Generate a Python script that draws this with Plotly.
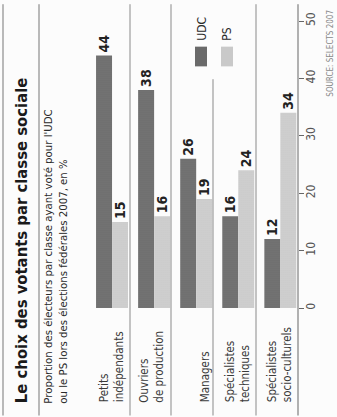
import plotly.graph_objects as go

# ---- data ----
categories = ["Petits<br>indépendants", "Ouvriers<br>de production", "Managers",
              "Spécialistes<br>techniques", "Spécialistes<br>socio-culturels"]
udc = [44, 38, 26, 16, 12]
ps = [15, 16, 19, 24, 34]
tick_vals = [0, 10, 20, 30, 40, 50]
title = "Le choix des votants par classe sociale"
subtitle = "Proportion des électeurs par classe ayant voté pour l'UDC<br>ou le PS lors des élections fédérales 2007, en %"
source = "SOURCE: SELECTS 2007"

W, H = 337, 417
L, R, T, B = 91, 298, 17, 308  # plot area in pixels


def xp(px):
    return (px - L) / (R - L)


def yp(py):
    return (B - py) / (B - T)


COND = "Liberation Sans Narrow, DejaVu Sans Condensed, Roboto Condensed, Roboto, sans-serif"
UDC_COL = "#6a6a6a"
PS_COL = "#c9c9c9"

idx = list(range(len(categories)))

fig = go.Figure()
fig.add_trace(go.Bar(
    x=idx, y=udc, name="UDC",
    marker=dict(color=UDC_COL, line=dict(width=0),
                pattern=dict(shape=".", fgcolor="#4a4a4a", bgcolor="#767676", size=2, solidity=0.3)),
    text=[str(v) for v in udc], textposition="outside", textangle=-90,
    textfont=dict(family=COND, size=14, color="#222222", weight="bold"),
    constraintext="none", cliponaxis=False,
))
fig.add_trace(go.Bar(
    x=idx, y=ps, name="PS",
    marker=dict(color=PS_COL, line=dict(width=0),
                pattern=dict(shape=".", fgcolor="#a8a8a8", bgcolor="#d2d2d2", size=2, solidity=0.3)),
    text=[str(v) for v in ps], textposition="outside", textangle=-90,
    textfont=dict(family=COND, size=14, color="#222222", weight="bold"),
    constraintext="none", cliponaxis=False,
))

shapes = []
line_col = "#8a8a8a"
# frame rules (left side of rotated page)
for px in (3, 39):
    shapes.append(dict(type="line", xref="paper", yref="paper", x0=xp(px), x1=xp(px),
                       y0=yp(0), y1=yp(H), line=dict(color="#777777", width=1)))
# category separators
for px, top in ((130, 0), (171, 0), (213, 76), (256, 0)):
    shapes.append(dict(type="line", xref="paper", yref="paper", x0=xp(px), x1=xp(px),
                       y0=yp(top), y1=yp(H), line=dict(color=line_col, width=1)))
# axis baseline
shapes.append(dict(type="line", xref="paper", yref="paper", x0=1, x1=1,
                   y0=yp(0), y1=yp(H), line=dict(color="#666666", width=1)))
# legend swatches
shapes.append(dict(type="rect", xref="paper", yref="paper", x0=xp(195), x1=xp(207),
                   y0=yp(63), y1=yp(43), fillcolor=UDC_COL, line=dict(width=0)))
shapes.append(dict(type="rect", xref="paper", yref="paper", x0=xp(221), x1=xp(233),
                   y0=yp(63), y1=yp(43), fillcolor=PS_COL, line=dict(width=0)))

annotations = []
annotations.append(dict(text="<b>" + title + "</b>", xref="paper", yref="paper",
                        x=xp(21), y=yp(407), xanchor="center", yanchor="bottom",
                        textangle=-90, showarrow=False,
                        font=dict(family=COND, size=16.5, color="#1a1a1a")))
annotations.append(dict(text=subtitle, xref="paper", yref="paper",
                        x=xp(56), y=yp(407), xanchor="center", yanchor="bottom",
                        textangle=-90, showarrow=False, align="left",
                        font=dict(family=COND, size=11.3, color="#2a2a2a")))
label_px = [111, 152, 205, 237, 279]
for cat, px in zip(categories, label_px):
    annotations.append(dict(text=cat, xref="paper", yref="paper",
                            x=xp(px), y=yp(406), xanchor="center", yanchor="bottom",
                            textangle=-90, showarrow=False, align="left",
                            font=dict(family=COND, size=11.5, color="#3a3a3a")))
annotations.append(dict(text="UDC", xref="paper", yref="paper", x=xp(202), y=yp(39),
                        xanchor="center", yanchor="bottom", textangle=-90, showarrow=False,
                        font=dict(family=COND, size=12, color="#2a2a2a")))
annotations.append(dict(text="PS", xref="paper", yref="paper", x=xp(227), y=yp(39),
                        xanchor="center", yanchor="bottom", textangle=-90, showarrow=False,
                        font=dict(family=COND, size=12, color="#2a2a2a")))
annotations.append(dict(text=source, xref="paper", yref="paper", x=xp(331), y=yp(4),
                        xanchor="center", yanchor="top", textangle=-90, showarrow=False,
                        font=dict(family=COND, size=8, color="#8a8a8a")))

fig.update_layout(
    width=W, height=H,
    margin=dict(l=L, r=W - R, t=T, b=H - B, pad=0),
    paper_bgcolor="#fcfcfc", plot_bgcolor="rgba(0,0,0,0)",
    barmode="group", bargap=0.24, bargroupgap=0,
    showlegend=False,
    xaxis=dict(range=[-0.5, 4.42], showticklabels=False, showgrid=False, zeroline=False,
               showline=False, ticks=""),
    yaxis=dict(range=[0, 50], side="right", tickvals=tick_vals, showgrid=False,
               zeroline=False, showline=False, ticks="outside", ticklen=5,
               tickcolor="#666666", tickangle=-90, ticklabelstandoff=-3,
               tickfont=dict(family=COND, size=12, color="#555555")),
    shapes=shapes, annotations=annotations,
    font=dict(family=COND),
)

fig.write_html("out.html")
